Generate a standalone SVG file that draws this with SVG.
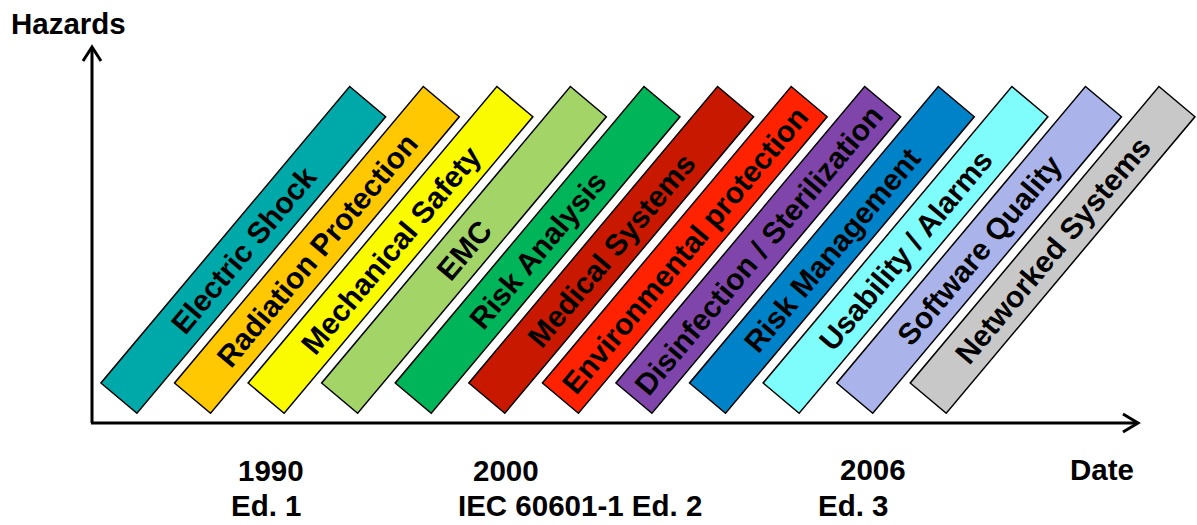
<svg xmlns="http://www.w3.org/2000/svg" width="1197" height="525" viewBox="0 0 1197 525">
<style>
.band{stroke:#000;stroke-width:1.5}
.bl{font-family:"Liberation Sans",Arial,sans-serif;font-weight:bold;font-size:30px;fill:#000;text-anchor:middle}
.lab{font-family:"Liberation Sans",Arial,sans-serif;font-weight:bold;font-size:29.5px;fill:#000}
.ax{stroke:#000;stroke-width:3;fill:none}
</style>
<rect width="1197" height="525" fill="#fff"/>
<g id="axes">
<path class="ax" d="M92 423 V48"/>
<path class="ax" d="M83 61 L92 47 L101 61"/>
<path class="ax" d="M91 423 H1137"/>
<path class="ax" d="M1123 414 L1138 423 L1123 432"/>
</g>
<g id="band1" transform="translate(243.3,249.9) rotate(-50)"><rect class="band" x="-193.5" y="-23.5" width="387" height="47" fill="#00A9A9"/><text class="bl" x="0" y="10.8">Electric Shock</text></g>
<g id="band2" transform="translate(316.9,249.9) rotate(-50)"><rect class="band" x="-193.5" y="-23.5" width="387" height="47" fill="#FFC800"/><text class="bl" x="0" y="10.8">Radiation Protection</text></g>
<g id="band3" transform="translate(390.5,249.9) rotate(-50)"><rect class="band" x="-193.5" y="-23.5" width="387" height="47" fill="#FAFA00"/><text class="bl" x="0" y="10.8">Mechanical Safety</text></g>
<g id="band4" transform="translate(464.0,249.9) rotate(-50)"><rect class="band" x="-193.5" y="-23.5" width="387" height="47" fill="#A3D468"/><text class="bl" x="0" y="10.8">EMC</text></g>
<g id="band5" transform="translate(537.6,249.9) rotate(-50)"><rect class="band" x="-193.5" y="-23.5" width="387" height="47" fill="#00B45A"/><text class="bl" x="0" y="10.8">Risk Analysis</text></g>
<g id="band6" transform="translate(611.2,249.9) rotate(-50)"><rect class="band" x="-193.5" y="-23.5" width="387" height="47" fill="#C81900"/><text class="bl" x="0" y="10.8">Medical Systems</text></g>
<g id="band7" transform="translate(684.8,249.9) rotate(-50)"><rect class="band" x="-193.5" y="-23.5" width="387" height="47" fill="#FF2200"/><text class="bl" x="0" y="10.8">Environmental protection</text></g>
<g id="band8" transform="translate(758.3,249.9) rotate(-50)"><rect class="band" x="-193.5" y="-23.5" width="387" height="47" fill="#8045AA"/><text class="bl" x="0" y="10.8">Disinfection / Sterilization</text></g>
<g id="band9" transform="translate(831.9,249.9) rotate(-50)"><rect class="band" x="-193.5" y="-23.5" width="387" height="47" fill="#0082C8"/><text class="bl" x="0" y="10.8">Risk Management</text></g>
<g id="band10" transform="translate(905.5,249.9) rotate(-50)"><rect class="band" x="-193.5" y="-23.5" width="387" height="47" fill="#7FFCFC"/><text class="bl" x="0" y="10.8">Usability / Alarms</text></g>
<g id="band11" transform="translate(979.1,249.9) rotate(-50)"><rect class="band" x="-193.5" y="-23.5" width="387" height="47" fill="#AAB4EB"/><text class="bl" x="0" y="10.8">Software Quality</text></g>
<g id="band12" transform="translate(1052.6,249.9) rotate(-50)"><rect class="band" x="-193.5" y="-23.5" width="387" height="47" fill="#C8C8C8"/><text class="bl" x="0" y="10.8">Networked Systems</text></g>
<g id="labels">
<text class="lab" x="11" y="34">Hazards</text>
<text class="lab" x="1070" y="480">Date</text>
<text class="lab" x="238" y="481">1990</text>
<text class="lab" x="231" y="516">Ed. 1</text>
<text class="lab" x="473" y="481">2000</text>
<text class="lab" x="458" y="516">IEC 60601-1 Ed. 2</text>
<text class="lab" x="840" y="480">2006</text>
<text class="lab" x="818" y="516">Ed. 3</text>
</g>
</svg>
